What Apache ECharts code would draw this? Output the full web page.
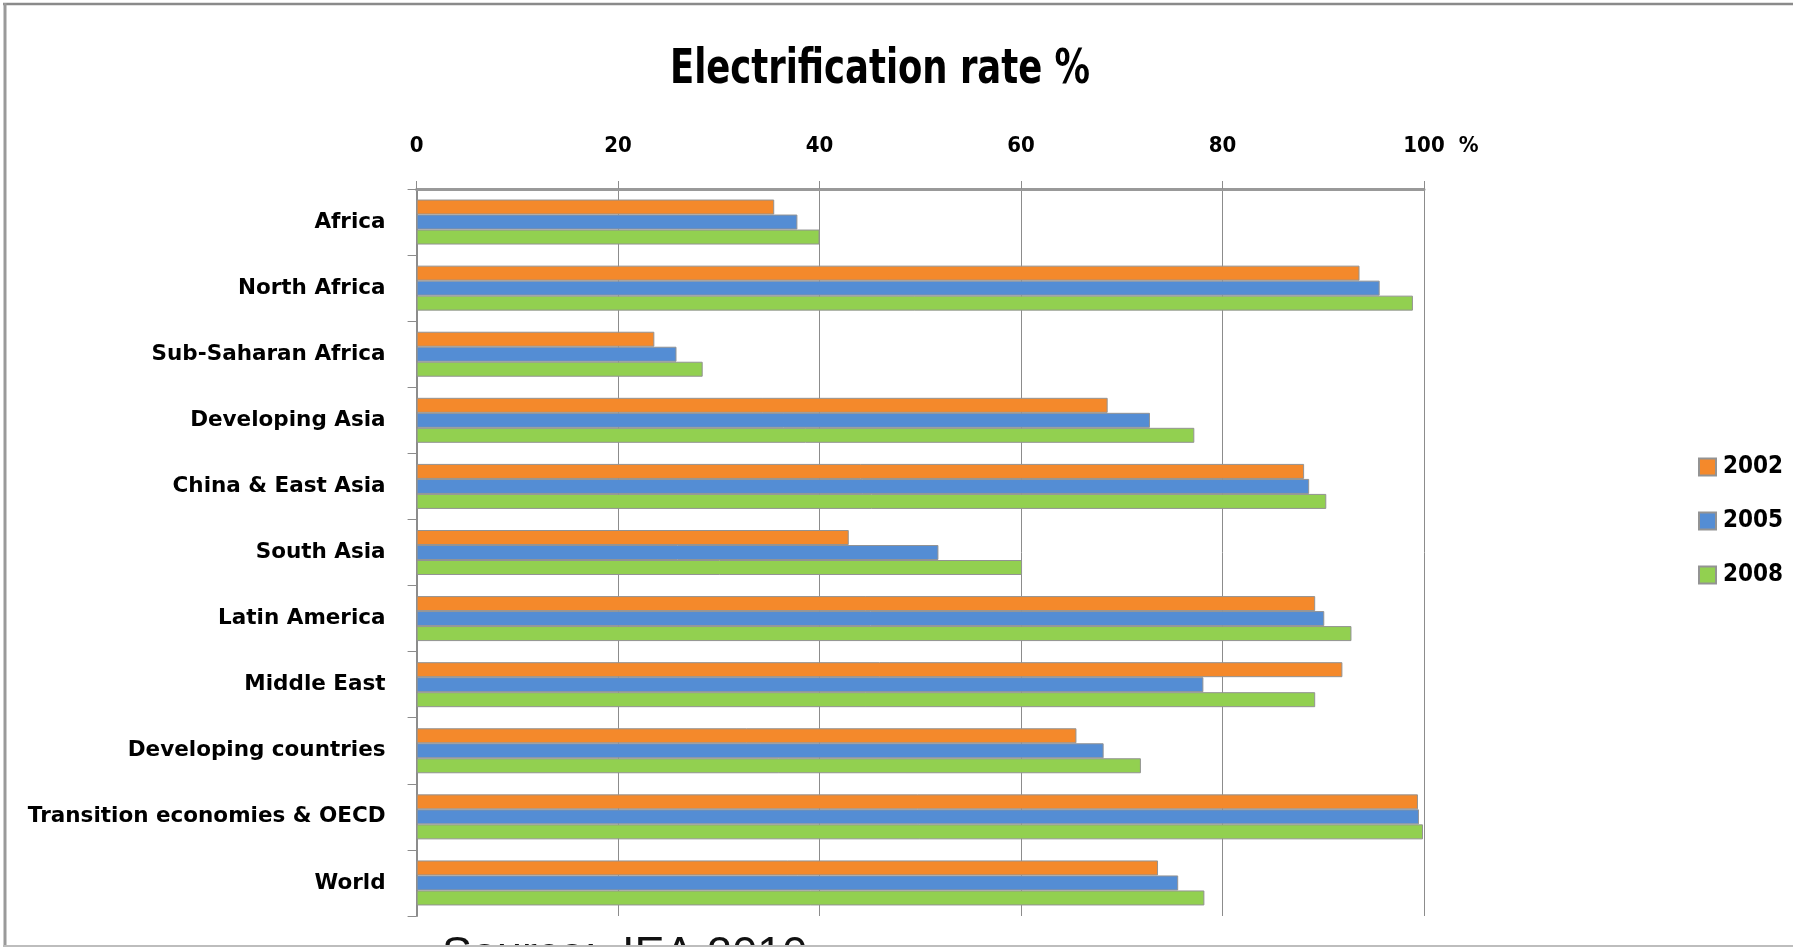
<!DOCTYPE html>
<html>
<head>
<meta charset="utf-8">
<title>Electrification rate %</title>
<script src="https://cdn.jsdelivr.net/npm/echarts@6/dist/echarts.min.js"></script>
<style>
  html, body { margin: 0; padding: 0; background: #fff; }
  #chart { width: 1793px; height: 947px; }
</style>
</head>
<body>
<div id="chart"></div>
<script>
// Electrification rate by region, % of population with access
const categories = [
  'Africa', 'North Africa', 'Sub-Saharan Africa', 'Developing Asia',
  'China & East Asia', 'South Asia', 'Latin America', 'Middle East',
  'Developing countries', 'Transition economies & OECD', 'World'
];
const years = ['2002', '2005', '2008'];
const rate2002 = [35.5, 93.6, 23.6, 68.6, 88.1, 42.9, 89.2, 91.9, 65.5, 99.4, 73.6];
const rate2005 = [37.8, 95.6, 25.8, 72.8, 88.6, 51.8, 90.1, 78.1, 68.2, 99.5, 75.6];
const rate2008 = [40.0, 98.9, 28.4, 77.2, 90.3, 60.1, 92.8, 89.2, 71.9, 99.9, 78.2];
const tickValues = [0, 20, 40, 60, 80, 100];
const titleText = 'Electrification rate %';
const sourceNote = 'Source:  IEA 2010';

const colors = ['#F4892B', '#548DD4', '#92D050'];
const gray = '#8c8c8c';
const labelFont = 'DejaVu Sans';
const digitFont = 'DejaVu Sans Condensed';

const chart = echarts.init(document.getElementById('chart'), null, { renderer: 'canvas' });

function barSeries(name, data, i) {
  return {
    name: name,
    type: 'bar',
    data: data,
    barWidth: 15,
    barGap: '0%',
    itemStyle: { color: colors[i], borderColor: '#939393', borderWidth: 1 },
    emphasis: { disabled: true }
  };
}

chart.setOption({
  animation: false,
  backgroundColor: '#fff',
  legend: {
    orient: 'vertical',
    left: 1693,
    top: 450,
    icon: 'rect',
    itemWidth: 17,
    itemHeight: 17,
    itemGap: 30,
    data: years,
    textStyle: {
      fontFamily: digitFont,
      fontWeight: 'bold',
      fontSize: 24,
      lineHeight: 17,
      color: '#000',
      padding: [0, 0, 0, 2]
    }
  },
  grid: { left: 416.6, right: 369, top: 189, bottom: 31, containLabel: false },
  xAxis: {
    type: 'value',
    position: 'top',
    min: 0,
    max: 100,
    interval: 20,
    axisLine: { show: true, lineStyle: { color: '#999', width: 3 } },
    axisTick: { show: true, length: 8, lineStyle: { color: gray, width: 1 } },
    splitLine: { show: true, lineStyle: { color: gray, width: 1 } },
    axisLabel: {
      margin: 32,
      fontFamily: digitFont,
      fontWeight: 'bold',
      fontSize: 22,
      color: '#000',
      customValues: tickValues,
      formatter: function (v) {
        return v === 100 ? '{pad|}{n|100}{u|%}' : String(v);
      },
      rich: {
        pad: { width: 34 },
        n: { fontFamily: digitFont, fontWeight: 'bold', fontSize: 22, color: '#000' },
        u: { fontFamily: digitFont, fontWeight: 'bold', fontSize: 22, color: '#000', width: 34, align: 'right' }
      }
    }
  },
  yAxis: {
    type: 'category',
    data: categories,
    inverse: true,
    axisLine: { show: true, lineStyle: { color: gray, width: 2 } },
    axisTick: { show: true, length: 9, lineStyle: { color: gray, width: 1 } },
    axisLabel: {
      margin: 31,
      fontFamily: labelFont,
      fontWeight: 'bold',
      fontSize: 21.5,
      color: '#000'
    }
  },
  series: [
    barSeries(years[0], rate2002, 0),
    barSeries(years[1], rate2005, 1),
    barSeries(years[2], rate2008, 2)
  ],
  graphic: [
    // chart title, a tall condensed bold face
    {
      type: 'text',
      x: 880,
      y: 71,
      scaleX: 0.82,
      z: 10,
      style: {
        text: titleText,
        fontFamily: digitFont,
        fontWeight: 'bold',
        fontSize: 48,
        fill: '#000',
        align: 'center',
        verticalAlign: 'middle'
      }
    },
    {
      type: 'text',
      left: 442,
      top: 933,
      z: 10,
      style: {
        text: sourceNote,
        fontFamily: 'Liberation Sans',
        fontSize: 45,
        fill: '#111'
      }
    },
    // frame around the chart area
    { type: 'line', z: 20, shape: { x1: 3, y1: 4, x2: 1793, y2: 4 }, style: { stroke: '#8a8a8a', lineWidth: 2.5 } },
    { type: 'line', z: 20, shape: { x1: 5, y1: 3, x2: 5, y2: 947 }, style: { stroke: '#9a9a9a', lineWidth: 3 } },
    { type: 'line', z: 20, shape: { x1: 3, y1: 946, x2: 1793, y2: 946 }, style: { stroke: '#bdbdbd', lineWidth: 2 } }
  ]
});
</script>
</body>
</html>
